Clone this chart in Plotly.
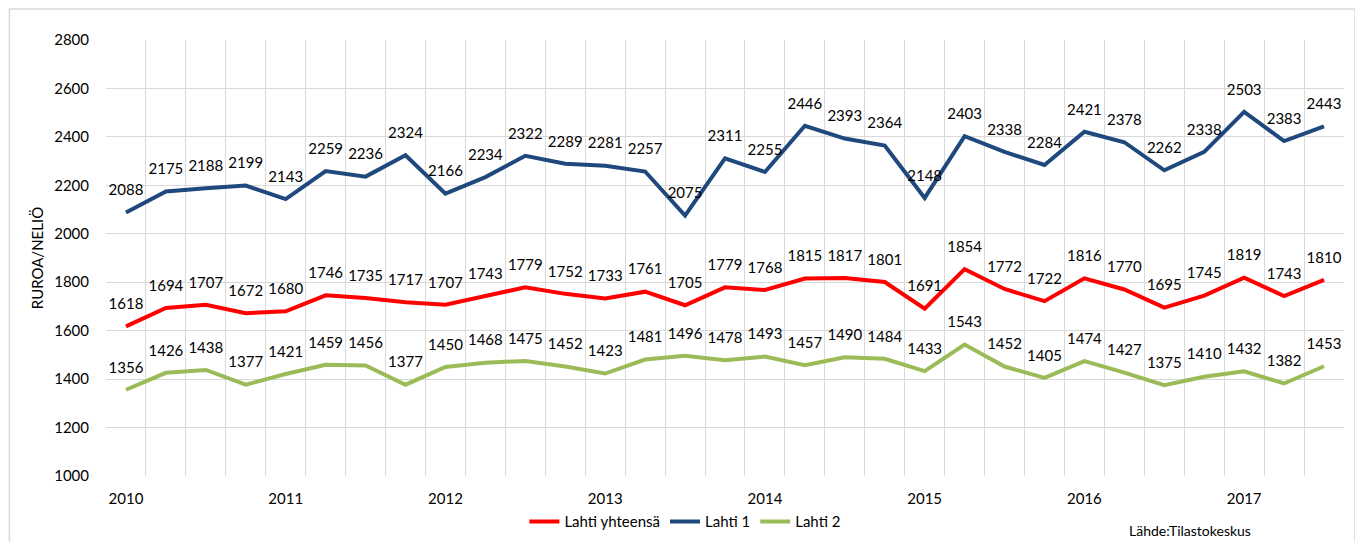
import plotly.graph_objects as go

years = ["2010", "2011", "2012", "2013", "2014", "2015", "2016", "2017"]

lahti_yht = [1618, 1694, 1707, 1672, 1680, 1746, 1735, 1717, 1707, 1743, 1779, 1752, 1733, 1761,
             1705, 1779, 1768, 1815, 1817, 1801, 1691, 1854, 1772, 1722, 1816, 1770, 1695, 1745,
             1819, 1743, 1810]
lahti_1 = [2088, 2175, 2188, 2199, 2143, 2259, 2236, 2324, 2166, 2234, 2322, 2289, 2281, 2257,
           2075, 2311, 2255, 2446, 2393, 2364, 2148, 2403, 2338, 2284, 2421, 2378, 2262, 2338,
           2503, 2383, 2443]
lahti_2 = [1356, 1426, 1438, 1377, 1421, 1459, 1456, 1377, 1450, 1468, 1475, 1452, 1423, 1481,
           1496, 1478, 1493, 1457, 1490, 1484, 1433, 1543, 1452, 1405, 1474, 1427, 1375, 1410,
           1432, 1382, 1453]

x = list(range(len(lahti_1)))
FONT = "Lato, Carlito, 'Open Sans', sans-serif"

fig = go.Figure()
series = [("Lahti yhteensä", lahti_yht, "#FF0000"),
          ("Lahti 1", lahti_1, "#1F497D"),
          ("Lahti 2", lahti_2, "#9BBB59")]
for name, vals, col in series:
    fig.add_trace(go.Scatter(
        x=x, y=vals, name=name, mode="lines",
        line=dict(color=col, width=4),
    ))
for name, vals, col in series:
    fig.add_trace(go.Scatter(
        x=x, y=vals, name=name, mode="markers+text", showlegend=False, hoverinfo="skip",
        marker=dict(size=20, opacity=0, color=col),
        text=[str(v) for v in vals], textposition="top center",
        textfont=dict(family=FONT, size=15, color="#000000"),
        cliponaxis=False,
    ))

fig.update_layout(
    width=1355, height=534,
    margin=dict(l=98, r=19, t=32, b=66, autoexpand=False),
    paper_bgcolor="white", plot_bgcolor="white",
    font=dict(family=FONT, size=15, color="#000000"),
    showlegend=True,
    legend=dict(orientation="h", x=0.468, xanchor="center", y=-0.105, yanchor="middle",
                font=dict(family=FONT, size=15), itemwidth=30, tracegroupgap=0),
    xaxis=dict(
        range=[-0.5, len(x) - 0.5], automargin=False,
        tickmode="array", tickvals=[i * 4 for i in range(len(years))], ticktext=years,
        showgrid=False, zeroline=False, showline=False, ticks="",
        ticklabelstandoff=12,
        tickfont=dict(family=FONT, size=15),
        minor=dict(tickmode="linear", tick0=-0.5, dtick=1, showgrid=True,
                   gridcolor="#D9D9D9", gridwidth=1, ticks=""),
    ),
    yaxis=dict(
        range=[1000, 2800], tickmode="linear", tick0=1000, dtick=200, automargin=False,
        showgrid=True, gridcolor="#D9D9D9", gridwidth=1, zeroline=False,
        showline=False, ticks="", ticklabelstandoff=16,
        tickfont=dict(family=FONT, size=15),
        title=dict(text="RUROA/NELIÖ", font=dict(family=FONT, size=15), standoff=6),
    ),
    annotations=[dict(text="Lähde:Tilastokeskus", xref="paper", yref="paper",
                      x=0.876, y=-0.124, xanchor="center", yanchor="middle",
                      showarrow=False, font=dict(family=FONT, size=14))],
    shapes=[dict(type="rect", xref="paper", yref="paper",
                 x0=-0.0780, x1=1.0089, y0=-0.2, y1=1.071,
                 line=dict(color="#D9D9D9", width=1.5), fillcolor="rgba(0,0,0,0)", layer="below")],
)

fig.write_html("out.html")
